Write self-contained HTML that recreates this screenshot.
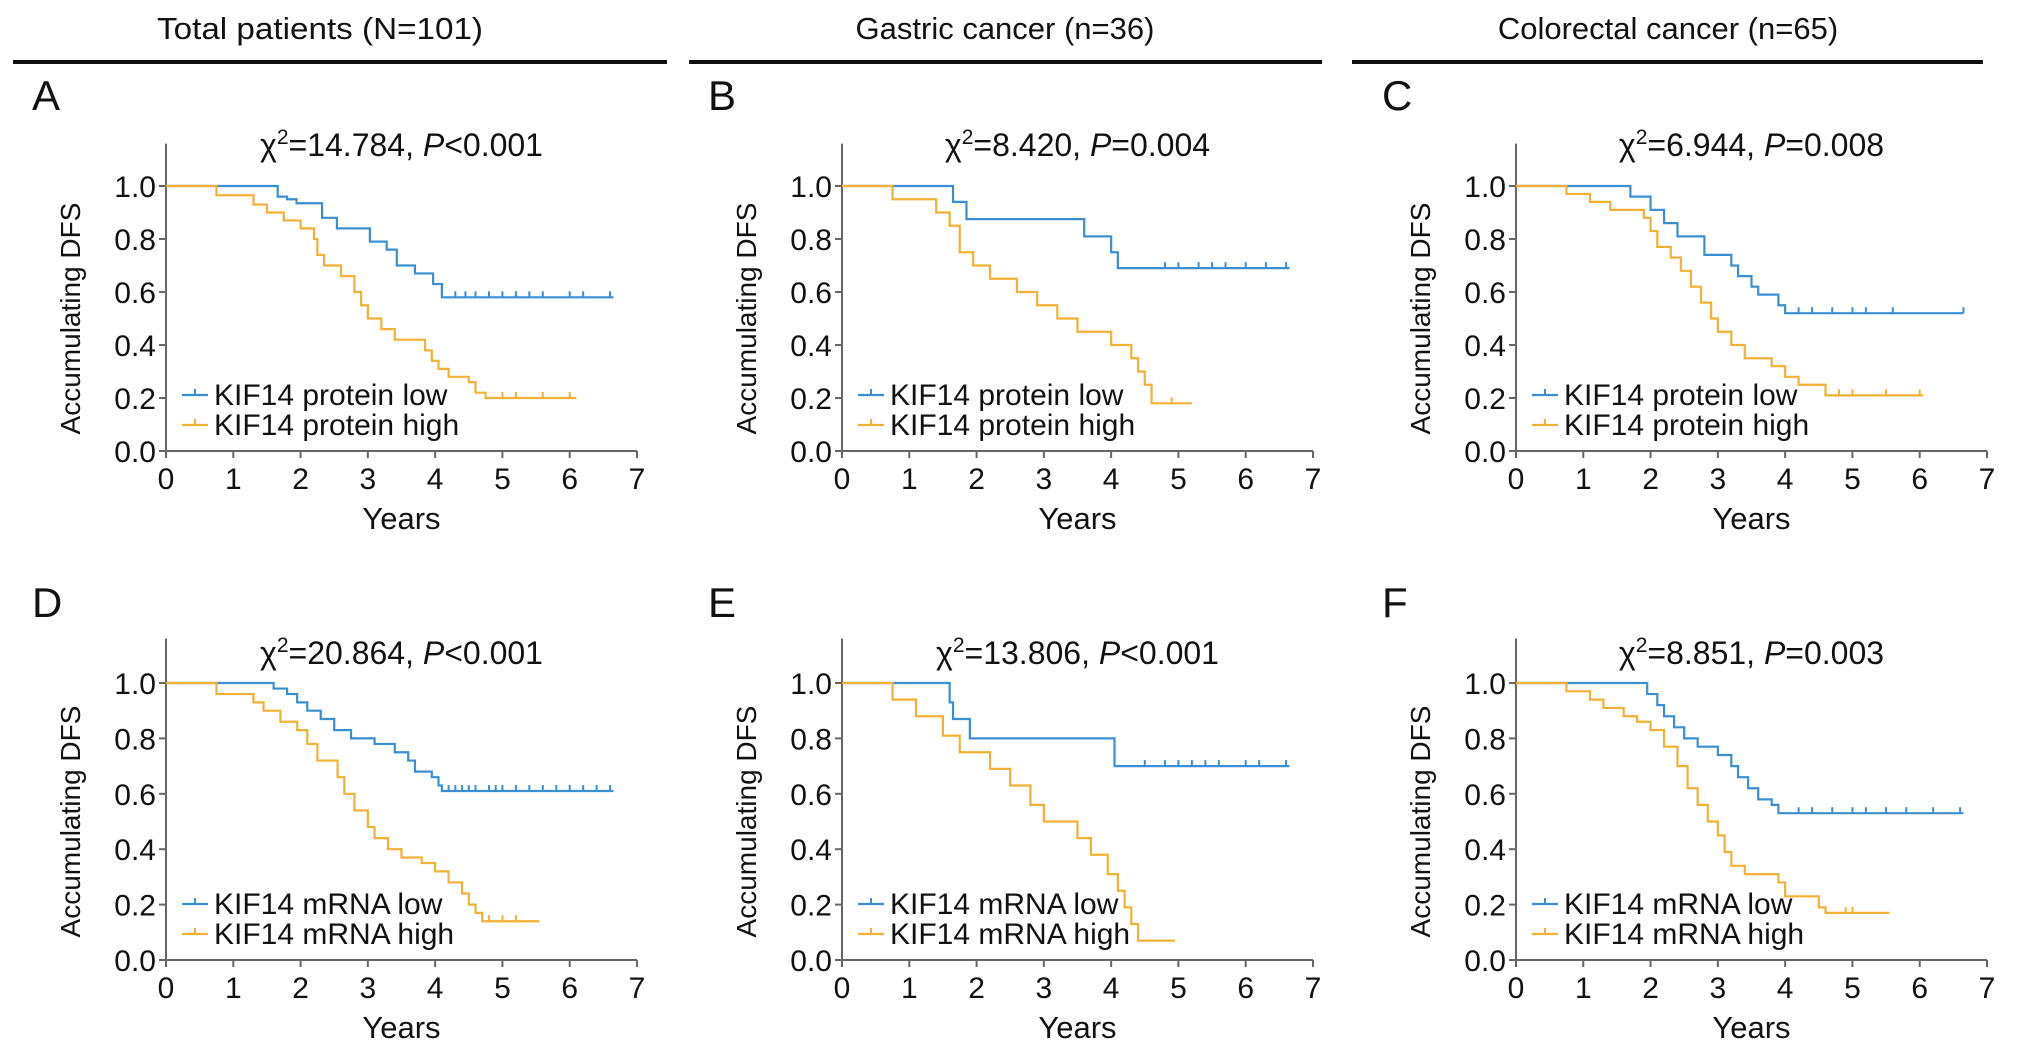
<!DOCTYPE html>
<html><head><meta charset="utf-8"><style>
body{margin:0;background:#fff;}
svg{display:block;font-family:"Liberation Sans",Arial,sans-serif;}
</style></head><body>
<svg id="fig" width="2032" height="1043" viewBox="0 0 2032 1043" xmlns="http://www.w3.org/2000/svg">
<g font-size="31" fill="#111" text-anchor="middle">
<text x="320" y="39" textLength="326" lengthAdjust="spacingAndGlyphs">Total patients (N=101)</text>
<rect x="13" y="60" width="654" height="4" fill="#111"/>
<text x="1005" y="39">Gastric cancer (n=36)</text>
<rect x="689" y="60" width="633" height="4" fill="#111"/>
<text x="1668" y="39">Colorectal cancer (n=65)</text>
<rect x="1352" y="60" width="631" height="4" fill="#111"/>
</g>
<g id="panels"></g>
</svg>
<script>
const xTicks=[0,1,2,3,4,5,6,7];
const yTicks=[0,0.2,0.4,0.6,0.8,1.0];
const yTickLabels=["0.0","0.2","0.4","0.6","0.8","1.0"];
const letters=["A","B","C","D","E","F"];
const stats=[["14.784","<0.001"],["8.420","=0.004"],["6.944","=0.008"],["20.864","<0.001"],["13.806","<0.001"],["8.851","=0.003"]];
// A
const aLowT=[0,1.66,1.8,1.94,2.32,2.54,3.03,3.28,3.43,3.7,3.97,4.1,6.65];
const aLowS=[1,0.96,0.95,0.935,0.88,0.84,0.79,0.76,0.70,0.67,0.63,0.58,0.58];
const aLowC=[4.3,4.45,4.6,4.8,5.0,5.2,5.4,5.6,6.0,6.2,6.6];
const aHighT=[0,0.75,1.3,1.5,1.75,2.0,2.2,2.25,2.35,2.6,2.8,2.9,3.0,3.2,3.4,3.85,3.95,4.05,4.2,4.5,4.6,4.75,6.1];
const aHighS=[1,0.965,0.93,0.90,0.87,0.84,0.80,0.74,0.70,0.66,0.60,0.55,0.50,0.46,0.42,0.38,0.34,0.31,0.28,0.26,0.22,0.20,0.20];
const aHighC=[5.0,5.2,5.6,6.0];
// B
const bLowT=[0,1.65,1.85,3.6,4.0,4.1,6.65];
const bLowS=[1,0.94,0.875,0.81,0.75,0.69,0.69];
const bLowC=[4.8,5.0,5.3,5.5,5.7,6.0,6.3,6.6];
const bHighT=[0,0.75,1.4,1.6,1.75,1.95,2.2,2.6,2.9,3.2,3.5,4.0,4.3,4.4,4.5,4.6,5.2];
const bHighS=[1,0.95,0.90,0.85,0.75,0.70,0.65,0.60,0.55,0.50,0.45,0.40,0.35,0.30,0.25,0.18,0.18];
const bHighC=[4.9];
// C
const cLowT=[0,1.7,2.0,2.2,2.4,2.8,3.2,3.3,3.5,3.6,3.9,4.0,6.65];
const cLowS=[1,0.96,0.91,0.86,0.81,0.74,0.70,0.66,0.62,0.59,0.55,0.52,0.52];
const cLowC=[4.2,4.4,4.7,5.0,5.2,5.6,6.65];
const cHighT=[0,0.75,1.1,1.4,1.9,2.0,2.1,2.3,2.45,2.6,2.75,2.9,3.0,3.2,3.4,3.8,4.0,4.2,4.6,6.05];
const cHighS=[1,0.97,0.94,0.91,0.88,0.83,0.77,0.73,0.68,0.62,0.56,0.50,0.45,0.40,0.35,0.32,0.28,0.25,0.21,0.21];
const cHighC=[4.8,5.0,5.5,6.0];
// D
const dLowT=[0,1.6,1.8,1.95,2.1,2.3,2.5,2.75,3.1,3.4,3.6,3.7,3.95,4.05,4.1,6.65];
const dLowS=[1,0.98,0.96,0.93,0.90,0.87,0.83,0.80,0.78,0.75,0.72,0.68,0.66,0.63,0.61,0.61];
const dLowC=[4.2,4.3,4.4,4.5,4.6,4.8,4.9,5.0,5.2,5.4,5.6,5.8,6.0,6.2,6.4,6.6];
const dHighT=[0,0.75,1.3,1.45,1.7,1.95,2.1,2.25,2.55,2.65,2.8,3.0,3.1,3.3,3.5,3.8,4.0,4.2,4.4,4.5,4.6,4.7,5.55];
const dHighS=[1,0.96,0.93,0.90,0.86,0.83,0.78,0.72,0.66,0.60,0.54,0.48,0.44,0.40,0.37,0.35,0.32,0.28,0.24,0.20,0.17,0.14,0.14];
const dHighC=[4.8,5.0,5.2];
// E
const eLowT=[0,1.6,1.65,1.9,4.05,6.65];
const eLowS=[1,0.93,0.87,0.80,0.70,0.70];
const eLowC=[4.5,4.8,5.0,5.2,5.4,5.6,6.0,6.2,6.6];
const eHighT=[0,0.75,1.1,1.5,1.75,2.2,2.5,2.8,3.0,3.5,3.7,3.95,4.1,4.2,4.3,4.4,4.95];
const eHighS=[1,0.94,0.88,0.81,0.75,0.69,0.63,0.56,0.50,0.44,0.38,0.31,0.25,0.19,0.13,0.07,0.07];
const eHighC=[];
// F
const fLowT=[0,1.95,2.1,2.2,2.35,2.5,2.7,3.0,3.2,3.3,3.45,3.6,3.8,3.9,6.65];
const fLowS=[1,0.96,0.92,0.88,0.84,0.80,0.77,0.74,0.70,0.66,0.62,0.58,0.56,0.53,0.53];
const fLowC=[4.2,4.4,4.7,5.0,5.2,5.5,5.8,6.2,6.6];
const fHighT=[0,0.75,1.1,1.3,1.6,1.8,2.0,2.2,2.4,2.55,2.7,2.85,3.0,3.1,3.2,3.4,3.9,4.0,4.5,4.6,5.55];
const fHighS=[1,0.97,0.94,0.91,0.88,0.86,0.83,0.77,0.70,0.62,0.56,0.50,0.45,0.39,0.34,0.31,0.28,0.23,0.19,0.17,0.17];
const fHighC=[4.9,5.0];

const series=[
 [[aLowT,aLowS,aLowC],[aHighT,aHighS,aHighC]],
 [[bLowT,bLowS,bLowC],[bHighT,bHighS,bHighC]],
 [[cLowT,cLowS,cLowC],[cHighT,cHighS,cHighC]],
 [[dLowT,dLowS,dLowC],[dHighT,dHighS,dHighC]],
 [[eLowT,eLowS,eLowC],[eHighT,eHighS,eHighC]],
 [[fLowT,fLowS,fLowC],[fHighT,fHighS,fHighC]]];
const legendNames=[["KIF14 protein low","KIF14 protein high"],["KIF14 mRNA low","KIF14 mRNA high"]];
const colors=["#3a8fd2","#f2b134"];

const NS="http://www.w3.org/2000/svg";
const root=document.getElementById("panels");
function mk(tag,attrs,parent){const e=document.createElementNS(NS,tag);for(const k in attrs)e.setAttribute(k,attrs[k]);parent.appendChild(e);return e;}
const colX0=[166,842,1516];
const rowY0=[451,960],rowY1=[186,683];
const letterY=[110,617],chiOff=[30,19];
for(let p=0;p<6;p++){
 const col=p%3,row=Math.floor(p/3);
 const x0=colX0[col],xw=(637-166)/7;
 const y0=rowY0[row],yh=(rowY0[row]-rowY1[row]);
 const X=v=>x0+v*xw, Y=v=>y0-v*yh;
 const g=mk("g",{},root);
 
 
 const lt=mk("text",{x:X(0)-134,y:letterY[row],"font-size":42,fill:"#111"},g);
 
 
 lt.textContent=letters[p];
 const st=mk("text",{x:X(3.5),y:Y(1.0)-chiOff[row],"font-size":32,fill:"#111","text-anchor":"middle"},g);
 
 
 st.innerHTML='χ<tspan dy="-12" font-size="21">2</tspan><tspan dy="12">='+stats[p][0]+', </tspan><tspan font-style="italic">P</tspan>'+stats[p][1].replace('<','&lt;');
 const ax=mk("path",{d:`M${X(0)},${Y(1.16)}V${Y(0)}H${X(7)}`,stroke:"#666","stroke-width":2,fill:"none"},g);
 
 
 xTicks.forEach(t=>{
  const tk=mk("line",{x1:X(t),x2:X(t),y1:Y(0),y2:Y(0)+7,stroke:"#666","stroke-width":2},g);
  
  
  const tl=mk("text",{x:X(t),y:Y(0)+38,"font-size":30,fill:"#111","text-anchor":"middle"},g);
  
  
  tl.textContent=t;
 });
 yTicks.forEach((t,i)=>{
  const tk=mk("line",{x1:X(0)-7,x2:X(0),y1:Y(t),y2:Y(t),stroke:"#666","stroke-width":2},g);
  
  
  const tl=mk("text",{x:X(0)-10,y:Y(t)+11,"font-size":30,fill:"#111","text-anchor":"end"},g);
  
  
  tl.textContent=yTickLabels[i];
 });
 const xt=mk("text",{x:X(3.5),y:Y(0)+78,"font-size":31,fill:"#111","text-anchor":"middle"},g);
 
 
 xt.textContent="Years";
 const yt=mk("text",{x:0,y:0,"font-size":28,fill:"#111","text-anchor":"middle",transform:`translate(${X(0)-86},${Y(0.5)}) rotate(-90)`},g);
 
 
 yt.textContent="Accumulating DFS";
 series[p].forEach((s,k)=>{
  const [T,S,C]=s;
  let d=`M${X(T[0])},${Y(S[0])}`;
  for(let i=1;i<T.length;i++){d+=`H${X(T[i])}V${Y(S[i])}`;}
  const ln=mk("path",{d:d,stroke:colors[k],"stroke-width":2.2,fill:"none"},g);
  
  
  C.forEach(c=>{
   let v=S[0];for(let i=0;i<T.length;i++){if(T[i]<=c)v=S[i];}
   const cm=mk("line",{x1:X(c),x2:X(c),y1:Y(v)-6,y2:Y(v),stroke:colors[k],"stroke-width":2},g);
   
   
  });
  const ly=Y(0)-56+k*30;
  const lg=mk("g",{},g);
  
  
  mk("line",{x1:X(0)+16,x2:X(0)+42,y1:ly,y2:ly,stroke:colors[k],"stroke-width":2.2},lg);
  mk("line",{x1:X(0)+29,x2:X(0)+29,y1:ly-6,y2:ly,stroke:colors[k],"stroke-width":2},lg);
  const tx=mk("text",{x:X(0)+48,y:ly+10,"font-size":30,fill:"#111"},lg);
  tx.textContent=legendNames[row][k];
 });
}
</script>
</body></html>
